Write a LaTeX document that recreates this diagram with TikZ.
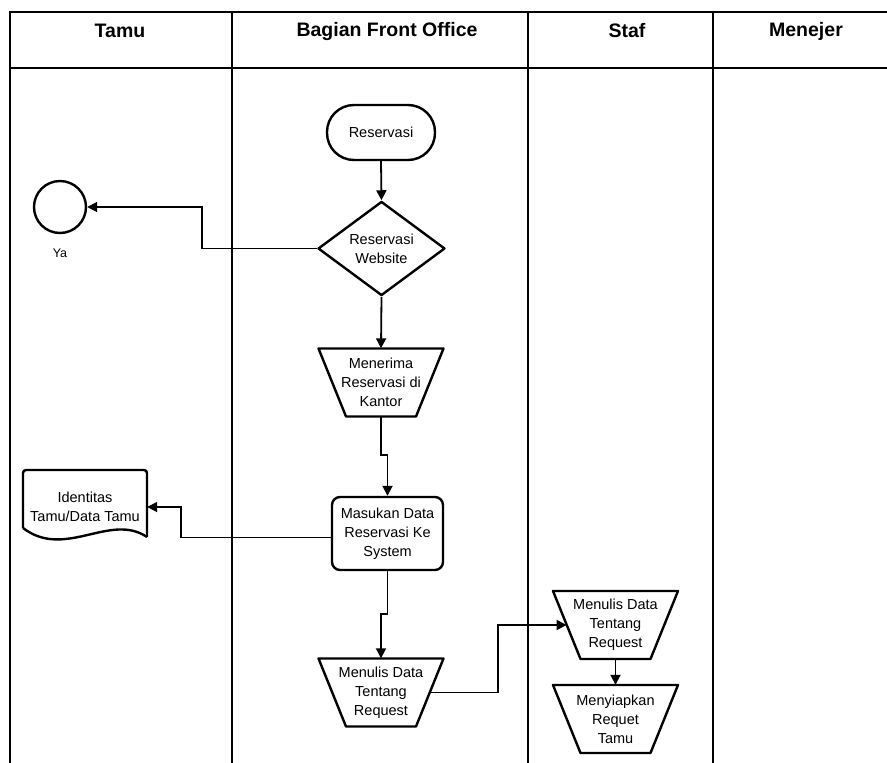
\documentclass[tikz,border=0pt]{standalone}
\usepackage{fontspec}
\setmainfont{Liberation Sans}
\usetikzlibrary{arrows.meta,shapes.geometric,calc}
\tikzset{
  lane/.style={line width=2pt, draw=black},
  shapeline/.style={line width=2.4pt, draw=black, line join=round},
  conn/.style={line width=1.8pt, draw=black, -{Triangle[length=10pt,width=10pt]}},
  hdr/.style={font=\fontsize{19.5}{22}\selectfont\bfseries, anchor=center},
  txt/.style={font=\fontsize{14.5}{19}\selectfont, align=center, text=black},
  terminal/.style={txt, shapeline, rounded corners=27pt, minimum width=108pt, minimum height=55pt, inner sep=0pt},
  decision/.style={txt, shapeline, diamond, minimum width=127pt, minimum height=93pt, inner sep=0pt},
  procbox/.style={txt, shapeline, rounded corners=8pt, minimum width=111pt, minimum height=73pt, inner sep=0pt},
  trapbox/.style={txt, minimum width=97.5pt, minimum height=68pt, inner sep=0pt},
  docbox/.style={txt, minimum width=124pt, minimum height=40pt, inner sep=0pt},
  endcircle/.style={shapeline, circle, minimum size=52pt, inner sep=0pt},
}
\newcommand{\mytrap}[3]{%
  \node[trapbox] (#1) at (#2) {#3};
  \draw[shapeline] (#1.center) ++(-62.5,-34) -- ++(125,0) -- ++(-27.5,68) -- ++(-70,0) -- cycle;
}
\begin{document}
\begin{tikzpicture}[x=1pt,y=-1pt]
\useasboundingbox (0,0) rectangle (887,763);
% swimlanes
\draw[lane] (10,763) -- (10,12) -- (887,12);
\draw[lane] (10,68) -- (887,68);
\draw[lane] (232,12) -- (232,763);
\draw[lane] (528,12) -- (528,763);
\draw[lane] (713,12) -- (713,763);
\node[hdr] (h1) at (120,31) {Tamu};
\node[hdr] (h2) at (387,31) {Bagian Front Office};
\node[hdr] (h3) at (627,31) {Staf};
\node[hdr] (h4) at (806,31) {Menejer};
% nodes
\node[terminal] (t) at (381,132.5) {Reservasi};
\node[decision] (d) at (381.5,248.5) {Reservasi\\Website};
\node[endcircle] (c) at (60,207) {};
\node[font=\fontsize{12.5}{14}\selectfont] (ya) at (60,253) {Ya};
\mytrap{m1}{381,382.5}{Menerima\\Reservasi di\\Kantor}
\node[procbox] (mb) at (387.5,533.5) {Masukan Data\\Reservasi Ke\\System};
\node[docbox] (doc) at (85,507) {Identitas\\Tamu/Data Tamu};
\draw[shapeline, rounded corners=3pt] (23,528) -- (23,470) -- (147,470) -- (147,537);
\draw[shapeline] (147,537) .. controls (110,512) and (65,560) .. (23,528);
\mytrap{fo2}{381,692.5}{Menulis Data\\Tentang\\Request}
\mytrap{s1}{615.5,625}{Menulis Data\\Tentang\\Request}
\mytrap{s2}{615.5,719}{Menyiapkan\\Requet\\Tamu}
% connectors
\draw[conn] (t.south) -- (d.north);
\draw[conn] (d.west) -| ($(d.west)!0.5!(c.east)$) |- (c.east);
\draw[conn] (d.south) -- (m1.north);
\draw[conn] (m1.south) -- ++(0,38) -| (mb.north);
\draw[conn] ([yshift=-4pt]mb.west) -- ++(-150,0) |- (doc.east);
\draw[conn] (mb.south) -- ++(0,43) -| (fo2.north);
\draw[conn] (fo2.east) -| ($(fo2.east)!0.5!(s1.west)$) |- (s1.west);
\draw[conn] (s1.south) -- (s2.north);
\end{tikzpicture}
\end{document}
